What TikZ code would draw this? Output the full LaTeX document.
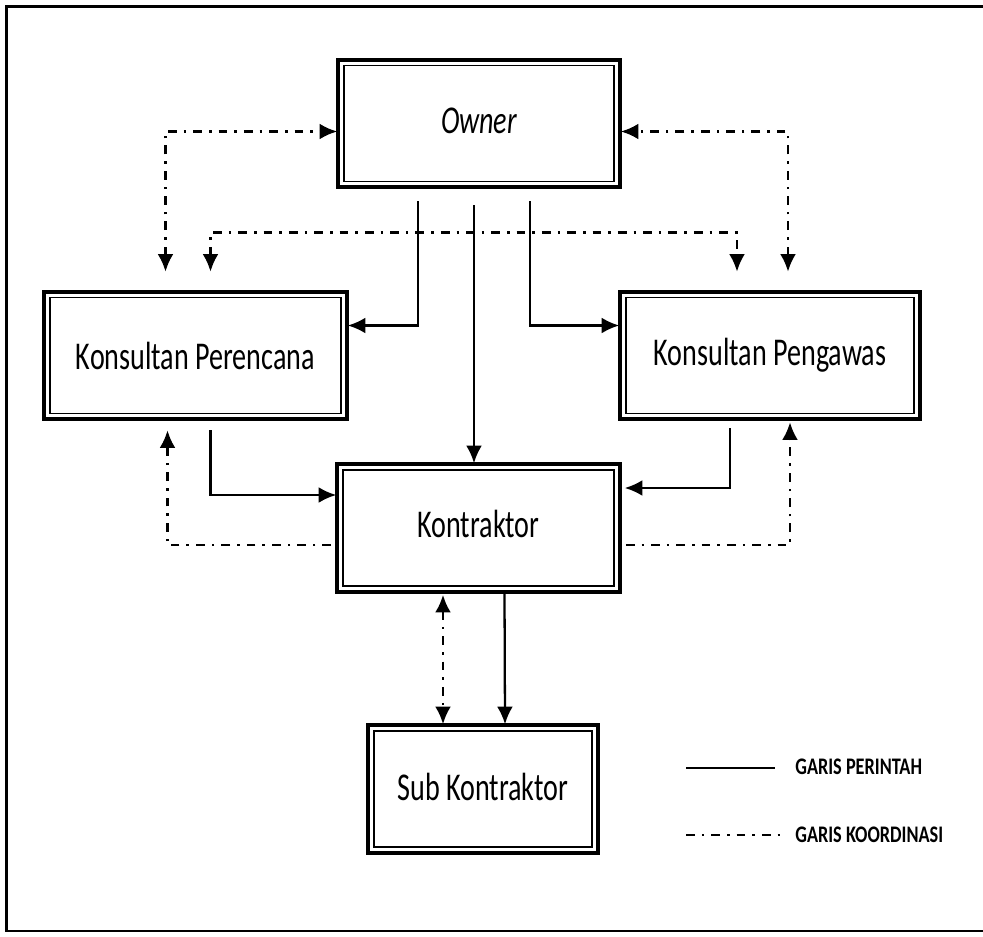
\documentclass[tikz,border=0pt]{standalone}
\usepackage{fontspec}
\setmainfont{Carlito}
\usepackage{graphicx}
\usetikzlibrary{arrows.meta}

% stretch a label upwards, as the scanned chart does
\newcommand{\tallbox}[2][1.4]{\scalebox{1}[#1]{#2}}

\begin{document}
\begin{tikzpicture}[x=0.02cm, y=-0.02cm,
        >={Latex[length=10pt,width=9pt]},
        unit/.style={draw, line width=0.9pt, minimum height=2.32cm, inner sep=0pt,
            font=\fontsize{16}{19}\selectfont},
        perintah/.style={line width=1.3pt, ->},
        koordline/.style={line width=1.5pt, dash pattern=on 5pt off 4pt on 1.4pt off 4pt},
        legend/.style={anchor=west, inner sep=0pt, font=\fontsize{10.4}{12}\selectfont\bfseries}]

    \useasboundingbox (0,0) rectangle (983,936);

    % Outer frame
    \draw[line width=1.3pt] (990,6.5) -- (6.5,6.5) -- (6.5,931) -- (990,931);

    % Units
    \node[unit, minimum width=5.4cm] (owner) at (479,123.5) {\raisebox{3pt}{\tallbox{\itshape Owner}}};
    \node[unit, minimum width=5.82cm] (perencana) at (195.5,355.5) {\tallbox{Konsultan Perencana}};
    \node[unit, minimum width=5.76cm] (pengawas) at (770,355.5) {\tallbox{Konsultan Pengawas}};
    \node[unit, minimum width=5.42cm] (kontraktor) at (478.5,528) {\raisebox{5pt}{\tallbox{Kontraktor}}};
    \node[unit, minimum width=4.36cm] (subkon) at (483,789) {\raisebox{3pt}{\tallbox{Sub Kontraktor}}};

    % Thick outer border of each unit
    \foreach \n in {owner,perencana,pengawas,kontraktor,subkon}
        \draw[line width=2.2pt] ([shift={(-5,-5)}]\n.north west) rectangle ([shift={(5,5)}]\n.south east);

    % Garis perintah
    \draw[perintah] ([shift={(-61,19)}]owner.south) |- ([shift={(6,-30)}]perencana.east);
    \draw[perintah] ([shift={(-5,23)}]owner.south) -- ([shift={(-4.5,-6)}]kontraktor.north);
    \draw[perintah] ([shift={(51,19)}]owner.south) |- ([shift={(-6,-30)}]pengawas.west);
    \draw[perintah] ([shift={(15,16)}]perencana.south) |- ([shift={(-6,-33)}]kontraktor.west);
    \draw[perintah] ([shift={(-40,14)}]pengawas.south) |- ([shift={(10,-40)}]kontraktor.east);
    \draw[perintah] ([shift={(26,6)}]kontraktor.south) -- ([shift={(22,-6)}]subkon.north);

    % Garis koordinasi
    \draw[koordline, <->] ([shift={(-30,-25)}]perencana.north) |- ([shift={(-6,8)}]owner.west);
    \draw[koordline, <->] ([shift={(18,-25)}]pengawas.north) |- ([shift={(6,8)}]owner.east);
    \draw[koordline, <->] ([shift={(15,-25)}]perencana.north) -- ++(0,-39) -| ([shift={(-33,-25)}]pengawas.north);
    \draw[koordline, ->] ([shift={(-11,17)}]kontraktor.west) -| ([shift={(-28,16)}]perencana.south);
    \draw[koordline, ->] ([shift={(11,17)}]kontraktor.east) -| ([shift={(20,8)}]pengawas.south);
    \draw[koordline, <->] ([shift={(-35.5,8)}]kontraktor.south) -- ([shift={(-40,-6)}]subkon.north);

    % Legend
    \coordinate (p1) at (686,768);
    \coordinate (p2) at (775,768);
    \draw[line width=1.3pt] (p1) -- (p2);
    \node[legend] (lperintah) at (795,767) {\tallbox[1.3]{GARIS PERINTAH}};

    \coordinate (k1) at (686,835);
    \coordinate (k2) at (783,835);
    \draw[koordline] (k1) -- (k2);
    \node[legend] (lkoord) at (795,835) {\tallbox[1.3]{GARIS KOORDINASI}};

\end{tikzpicture}
\end{document}
